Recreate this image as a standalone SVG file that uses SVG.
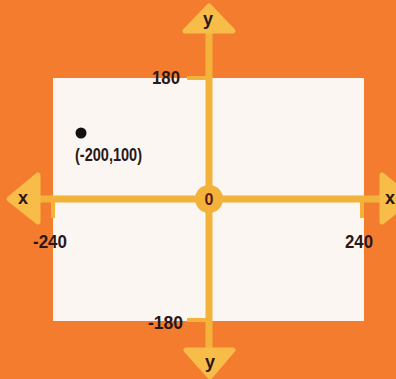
<svg xmlns="http://www.w3.org/2000/svg" width="396" height="379" viewBox="0 0 396 379">
<style>
.t{font-family:"Liberation Sans",Arial,sans-serif;font-weight:bold;font-size:18px;fill:#2a1716}
.ax{stroke:#f3b23a;stroke-linecap:butt;fill:none}
.arr{fill:#f7bd48;stroke:#f7bd48;stroke-width:5;stroke-linejoin:round}
</style>
<rect x="0" y="0" width="396" height="379" fill="#f47c2e"/>
<rect id="plane" x="53" y="78" width="311" height="243" fill="#fbf6f2"/>
<g id="connectors">
<line class="ax" x1="209" y1="30" x2="209" y2="350" stroke-width="7"/>
<line class="ax" x1="38" y1="199" x2="382" y2="199" stroke-width="7"/>
<line class="ax" x1="187" y1="78" x2="209" y2="78" stroke-width="4"/>
<line class="ax" x1="187" y1="320" x2="209" y2="320" stroke-width="4"/>
<line class="ax" x1="53" y1="199" x2="53" y2="218" stroke-width="4"/>
<line class="ax" x1="362" y1="199" x2="362" y2="218" stroke-width="4"/>
</g>
<g id="arrow-y-top"><polygon class="arr" points="209,6 233,31 185,31"/><text class="t" x="208" y="25" text-anchor="middle">y</text></g>
<g id="arrow-y-bottom"><polygon class="arr" points="186,350 233,350 210,377"/><text class="t" x="210" y="368" text-anchor="middle">y</text></g>
<g id="arrow-x-left"><polygon class="arr" points="9,199 38,175 38,222"/><text class="t" x="23" y="204" text-anchor="middle">x</text></g>
<g id="arrow-x-right"><polygon class="arr" points="411,199 382,175 382,222"/><text class="t" x="390" y="204" text-anchor="middle">x</text></g>
<g id="origin"><circle cx="209" cy="199" r="14" fill="#f3b23a"/><text class="t" x="209" y="205" text-anchor="middle" style="font-size:16px;fill:#5a1a14">0</text></g>
<g id="label-180"><text class="t" x="180" y="84" text-anchor="end" textLength="28" lengthAdjust="spacingAndGlyphs">180</text></g>
<g id="label-m180"><text class="t" x="183" y="329" text-anchor="end" textLength="35" lengthAdjust="spacingAndGlyphs">-180</text></g>
<g id="label-m240"><text class="t" x="33" y="248" textLength="34" lengthAdjust="spacingAndGlyphs">-240</text></g>
<g id="label-240"><text class="t" x="345" y="248" textLength="28" lengthAdjust="spacingAndGlyphs">240</text></g>
<g id="point"><circle cx="81" cy="133" r="5.5" fill="#111"/><text class="t" x="75" y="161" textLength="67" lengthAdjust="spacingAndGlyphs">(-200,100)</text></g>
</svg>
